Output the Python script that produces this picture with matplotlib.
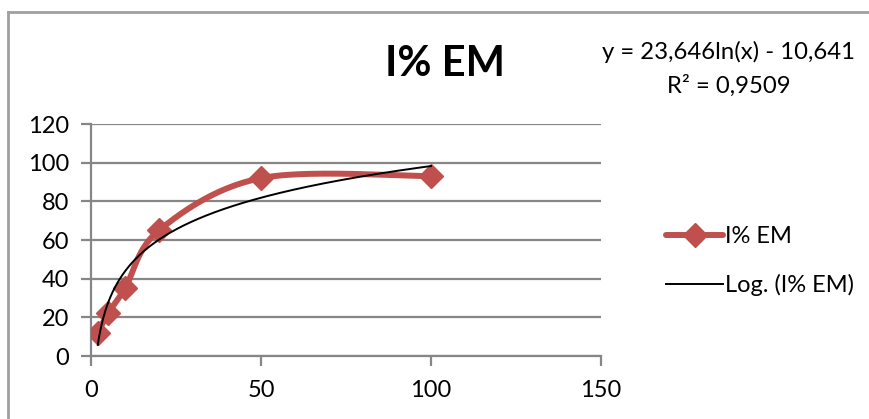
import numpy as np
import matplotlib
matplotlib.use("Agg")
import matplotlib.pyplot as plt
from matplotlib.lines import Line2D

plt.rcParams['font.family'] = ['Lato', 'DejaVu Sans']

# data
conc = [2, 5, 10, 20, 50, 100]
inhib = [12, 22, 35, 65, 92, 93]
series_name = "I% EM"
# logarithmic trendline as printed on the chart
coef_a = 23.646
coef_b = -10.641
r2 = 0.9509

xticks = [0, 50, 100, 150]
yticks = [0, 20, 40, 60, 80, 100, 120]

red = '#C0504D'
grid_c = '#868686'

fig = plt.figure(figsize=(8.7, 4.19), dpi=100)
ax = fig.add_axes([91/870, 1-356/419, 510/870, 232/419])
ax.set_xlim(0, 150)
ax.set_ylim(0, 120)

# smoothed line like Excel (bezier with catmull-rom control points), in display space
pts = ax.transData.transform(np.column_stack([conc, inhib]))
P = np.vstack([pts[0], pts, pts[-1]])
curve = []
t = np.linspace(0, 1, 40)[:, None]
for i in range(1, len(P) - 2):
    p0, p3 = P[i], P[i+1]
    c1 = p0 + (P[i+1] - P[i-1]) / 6
    c2 = p3 - (P[i+2] - P[i]) / 6
    seg = (1-t)**3*p0 + 3*(1-t)**2*t*c1 + 3*(1-t)*t**2*c2 + t**3*p3
    curve.append(seg)
curve = ax.transData.inverted().transform(np.vstack(curve))
ax.plot(curve[:, 0], curve[:, 1], color=red, lw=4.3, solid_capstyle='round', zorder=3)
ax.plot(conc, inhib, ls='none', marker='D', ms=12, color=red, zorder=4)

xt = np.linspace(min(conc), max(conc), 300)
ax.plot(xt, coef_a*np.log(xt) + coef_b, color='black', lw=1.4, zorder=5)

ax.set_xticks(xticks)
ax.set_yticks(yticks)
ax.grid(axis='y', color=grid_c, lw=1.6)
ax.set_axisbelow(True)
for s in ['top', 'right']:
    ax.spines[s].set_visible(False)
for s in ['left', 'bottom']:
    ax.spines[s].set_color(grid_c)
    ax.spines[s].set_linewidth(1.6)
ax.tick_params(colors=grid_c, width=1.6, length=7, labelsize=17, labelcolor='black')
ax.tick_params(axis='x', pad=10)
ax.tick_params(axis='y', pad=9)

fig.text(445/870, 1-64/419, series_name, ha='center', va='center', fontsize=30, fontweight='bold')
eq = "y = {:.3f}ln(x) - {:.3f}".format(coef_a, -coef_b).replace('.', ',')
fig.text(729/870, 1-52/419, eq, ha='center', va='center', fontsize=17.2)
fig.text(729/870, 1-86/419, "R² = {:.4f}".format(r2).replace('.', ','), ha='center', va='center', fontsize=17.2)

h1 = Line2D([], [], color=red, lw=4.3, marker='D', ms=12, solid_capstyle='round')
h2 = Line2D([], [], color='black', lw=1.4)
fig.legend([h1, h2], [series_name, "Log. ({})".format(series_name)], loc='center left',
           bbox_to_anchor=(645/870, 1-261/419), frameon=False, fontsize=17,
           handlelength=2.4, handletextpad=0.1, labelspacing=1.15, markerscale=1.0)

# outer chart border
fig.add_artist(Line2D([8/870, 8/870], [0, 1-12/419], color='#A0A0A0', lw=2))
fig.add_artist(Line2D([8/870, 1], [1-12/419, 1-12/419], color='#A0A0A0', lw=2))

fig.savefig('out.png', dpi=100)
